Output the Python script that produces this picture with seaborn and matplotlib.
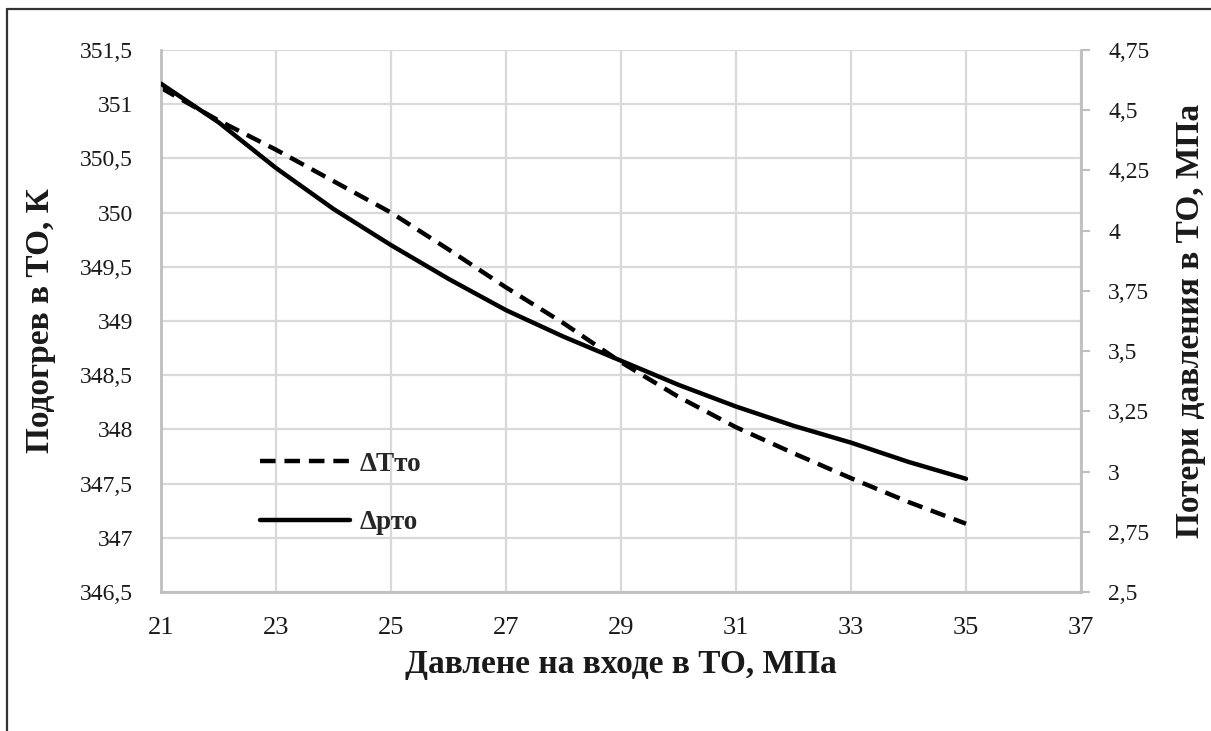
import matplotlib
matplotlib.use("Agg")
import matplotlib.pyplot as plt
import seaborn as sns
import pandas as pd
from matplotlib.ticker import FuncFormatter, MultipleLocator
from matplotlib.lines import Line2D

# ---- data ----
pressure_in = [21, 22, 23, 24, 25, 26, 27, 28, 29, 30, 31, 32, 33, 34, 35]
dT_to = [351.15, 350.85, 350.58, 350.29, 350.00, 349.66, 349.31, 348.98,
         348.62, 348.30, 348.02, 347.78, 347.55, 347.33, 347.13]
dp_to = [4.61, 4.45, 4.26, 4.09, 3.94, 3.80, 3.67, 3.56,
         3.46, 3.36, 3.27, 3.19, 3.12, 3.04, 2.97]
x_ticks = [21, 23, 25, 27, 29, 31, 33, 35, 37]
label_T = "ΔTто"
label_p = "Δрто"
xlabel = "Давлене на входе в ТО, МПа"
ylabel_left = "Подогрев в ТО, К"
ylabel_right = "Потери давления в ТО, МПа"

df = pd.DataFrame({"x": pressure_in, "T": dT_to, "p": dp_to})

sns.set_theme(style="white")
plt.rcParams["font.family"] = ["Liberation Serif", "DejaVu Serif"]

W, H = 1211, 731
fig = plt.figure(figsize=(W / 100, H / 100), dpi=100)
ax = fig.add_axes([161 / W, 1 - 592 / H, (1081 - 161) / W, (592 - 50) / H])
ax2 = ax.twinx()

sns.lineplot(data=df, x="x", y="T", ax=ax, color="black", linewidth=3.2,
             linestyle=(0, (3.5, 2.0)), label=label_T, legend=False)
sns.lineplot(data=df, x="x", y="p", ax=ax2, color="black", linewidth=3.2,
             label=label_p, legend=False)

ax.set_xlim(21, 37)
ax.set_ylim(346.5, 351.5)
ax2.set_ylim(2.5, 4.75)
ax.set_xticks(x_ticks)
ax.yaxis.set_major_locator(MultipleLocator(0.5))
ax2.yaxis.set_major_locator(MultipleLocator(0.25))

fmt = FuncFormatter(lambda v, p: ("%g" % v).replace(".", ","))
ax.yaxis.set_major_formatter(fmt)
ax2.yaxis.set_major_formatter(fmt)
ax.xaxis.set_major_formatter(fmt)

ax.grid(True, color="#d9d9d9", linewidth=1.6)
ax2.grid(False)
ax.set_axisbelow(True)

gray = "#bfbfbf"
for a in (ax, ax2):
    for s in a.spines.values():
        s.set_visible(False)
for s in [ax.spines["left"], ax.spines["bottom"], ax2.spines["right"]]:
    s.set_visible(True)
    s.set_color(gray)
    s.set_linewidth(2.0)

txt = "#1a1a1a"
ax.tick_params(axis="y", length=0, labelsize=17, labelcolor=txt, pad=20)
ax.tick_params(axis="x", length=0, labelsize=19, labelcolor=txt, pad=18)
ax2.tick_params(axis="y", length=6.5, width=1.5, color=gray, labelsize=17,
                labelcolor=txt, pad=13, direction="out")

lab = dict(fontsize=24, fontweight="bold", color=txt)
ax.set_xlabel(xlabel, va="top", **lab)
ax.xaxis.set_label_coords(0.5, -0.105)
ax.set_ylabel(ylabel_left, va="center", **lab)
ax.yaxis.set_label_coords((41 - 161) / 920, 0.5)
ax2.set_ylabel(ylabel_right, va="center", rotation=90, **lab)
ax2.yaxis.set_label_coords((1190 - 161) / 920, 0.5)

h1, l1 = ax.get_legend_handles_labels()
h2, l2 = ax2.get_legend_handles_labels()
ax.legend(h1 + h2, l1 + l2, loc="center left",
          bbox_to_anchor=((260 - 161) / 920, (592 - 493.5) / 542),
          frameon=False, borderpad=0, borderaxespad=0,
          handlelength=3.33, handletextpad=0.35, labelspacing=1.25,
          prop={"family": ["Liberation Serif", "DejaVu Serif"],
                "weight": "bold", "size": 19.5})

fig.add_artist(Line2D([7 / W, 7 / W], [0, 1 - 9 / H], transform=fig.transFigure,
                      color="#333333", linewidth=1.6))
fig.add_artist(Line2D([7 / W, 1], [1 - 9 / H, 1 - 9 / H], transform=fig.transFigure,
                      color="#333333", linewidth=1.6))

fig.savefig("out.png", dpi=100, facecolor="white")
